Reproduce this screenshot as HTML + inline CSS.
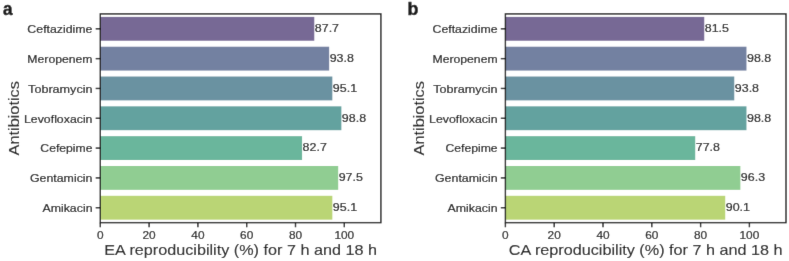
<!DOCTYPE html>
<html><head><meta charset="utf-8"><style>
html,body{margin:0;padding:0;background:#fff;}
svg{display:block;}
text{font-family:"Liberation Sans",sans-serif;fill:#141414;stroke:#141414;stroke-width:0.2px;}
</style></head><body>
<svg width="789" height="261" viewBox="0 0 789 261">
<defs><filter id="soft" x="-1%" y="-1%" width="102%" height="102%"><feConvolveMatrix order="3" kernelMatrix="0.0052 0.0619 0.0052 0.0619 0.7314 0.0619 0.0052 0.0619 0.0052" edgeMode="duplicate"/></filter></defs>
<g filter="url(#soft)">
<rect width="789" height="261" fill="#fff"/>
<rect x="100.30" y="16.88" width="213.99" height="23.86" fill="#776995"/>
<text x="314.79" y="32.18" font-size="11.55" text-anchor="start" textLength="24.27" lengthAdjust="spacingAndGlyphs">87.7</text>
<line x1="95.70" y1="28.81" x2="100.30" y2="28.81" stroke="#141414" stroke-width="1.4"/>
<text x="92.50" y="33.08" font-size="11.55" text-anchor="end" textLength="65.13" lengthAdjust="spacingAndGlyphs">Ceftazidime</text>
<rect x="100.30" y="46.70" width="228.87" height="23.86" fill="#7381a1"/>
<text x="329.67" y="62.00" font-size="11.55" text-anchor="start" textLength="24.27" lengthAdjust="spacingAndGlyphs">93.8</text>
<line x1="95.70" y1="58.63" x2="100.30" y2="58.63" stroke="#141414" stroke-width="1.4"/>
<text x="92.50" y="62.90" font-size="11.55" text-anchor="end" textLength="65.12" lengthAdjust="spacingAndGlyphs">Meropenem</text>
<rect x="100.30" y="76.52" width="232.04" height="23.86" fill="#6a92a1"/>
<text x="332.84" y="91.82" font-size="11.55" text-anchor="start" textLength="24.27" lengthAdjust="spacingAndGlyphs">95.1</text>
<line x1="95.70" y1="88.45" x2="100.30" y2="88.45" stroke="#141414" stroke-width="1.4"/>
<text x="92.50" y="92.72" font-size="11.55" text-anchor="end" textLength="64.40" lengthAdjust="spacingAndGlyphs">Tobramycin</text>
<rect x="100.30" y="106.34" width="241.07" height="23.86" fill="#63a29f"/>
<text x="341.87" y="121.64" font-size="11.55" text-anchor="start" textLength="24.27" lengthAdjust="spacingAndGlyphs">98.8</text>
<line x1="95.70" y1="118.27" x2="100.30" y2="118.27" stroke="#141414" stroke-width="1.4"/>
<text x="92.50" y="122.54" font-size="11.55" text-anchor="end" textLength="68.49" lengthAdjust="spacingAndGlyphs">Levofloxacin</text>
<rect x="100.30" y="136.16" width="201.79" height="23.86" fill="#6bb69c"/>
<text x="302.59" y="151.46" font-size="11.55" text-anchor="start" textLength="24.27" lengthAdjust="spacingAndGlyphs">82.7</text>
<line x1="95.70" y1="148.09" x2="100.30" y2="148.09" stroke="#141414" stroke-width="1.4"/>
<text x="92.50" y="152.36" font-size="11.55" text-anchor="end" textLength="52.13" lengthAdjust="spacingAndGlyphs">Cefepime</text>
<rect x="100.30" y="165.98" width="237.90" height="23.86" fill="#90cd92"/>
<text x="338.70" y="181.28" font-size="11.55" text-anchor="start" textLength="24.27" lengthAdjust="spacingAndGlyphs">97.5</text>
<line x1="95.70" y1="177.91" x2="100.30" y2="177.91" stroke="#141414" stroke-width="1.4"/>
<text x="92.50" y="182.18" font-size="11.55" text-anchor="end" textLength="62.59" lengthAdjust="spacingAndGlyphs">Gentamicin</text>
<rect x="100.30" y="195.80" width="232.04" height="23.86" fill="#bad574"/>
<text x="332.84" y="211.10" font-size="11.55" text-anchor="start" textLength="24.27" lengthAdjust="spacingAndGlyphs">95.1</text>
<line x1="95.70" y1="207.73" x2="100.30" y2="207.73" stroke="#141414" stroke-width="1.4"/>
<text x="92.50" y="212.00" font-size="11.55" text-anchor="end" textLength="50.02" lengthAdjust="spacingAndGlyphs">Amikacin</text>
<line x1="100.30" y1="222.64" x2="100.30" y2="227.24" stroke="#141414" stroke-width="1.4"/>
<text x="100.30" y="238.60" font-size="11.55" text-anchor="middle" textLength="6.59" lengthAdjust="spacingAndGlyphs">0</text>
<line x1="149.10" y1="222.64" x2="149.10" y2="227.24" stroke="#141414" stroke-width="1.4"/>
<text x="149.10" y="238.60" font-size="11.55" text-anchor="middle" textLength="13.18" lengthAdjust="spacingAndGlyphs">20</text>
<line x1="197.90" y1="222.64" x2="197.90" y2="227.24" stroke="#141414" stroke-width="1.4"/>
<text x="197.90" y="238.60" font-size="11.55" text-anchor="middle" textLength="13.18" lengthAdjust="spacingAndGlyphs">40</text>
<line x1="246.70" y1="222.64" x2="246.70" y2="227.24" stroke="#141414" stroke-width="1.4"/>
<text x="246.70" y="238.60" font-size="11.55" text-anchor="middle" textLength="13.18" lengthAdjust="spacingAndGlyphs">60</text>
<line x1="295.50" y1="222.64" x2="295.50" y2="227.24" stroke="#141414" stroke-width="1.4"/>
<text x="295.50" y="238.60" font-size="11.55" text-anchor="middle" textLength="13.18" lengthAdjust="spacingAndGlyphs">80</text>
<line x1="344.30" y1="222.64" x2="344.30" y2="227.24" stroke="#141414" stroke-width="1.4"/>
<text x="344.30" y="238.60" font-size="11.55" text-anchor="middle" textLength="19.76" lengthAdjust="spacingAndGlyphs">100</text>
<rect x="100.30" y="13.90" width="280.60" height="208.74" fill="none" stroke="#141414" stroke-width="1.4"/>
<text x="240.60" y="254.70" font-size="15.01" text-anchor="middle" textLength="272.83" lengthAdjust="spacingAndGlyphs" style="stroke-width:0.1px">EA reproducibility (%) for 7 h and 18 h</text>
<text x="0.00" y="0.00" font-size="15.01" text-anchor="middle" textLength="74.43" lengthAdjust="spacingAndGlyphs" style="stroke-width:0.1px" transform="translate(18.60,118.27) rotate(-90)">Antibiotics</text>
<text x="2.90" y="15.20" font-size="17.60" font-weight="bold" style="stroke-width:0.5px" textLength="9.50" lengthAdjust="spacingAndGlyphs">a</text>
<rect x="505.40" y="16.88" width="198.86" height="23.86" fill="#776995"/>
<text x="704.76" y="32.18" font-size="11.55" text-anchor="start" textLength="24.27" lengthAdjust="spacingAndGlyphs">81.5</text>
<line x1="500.80" y1="28.81" x2="505.40" y2="28.81" stroke="#141414" stroke-width="1.4"/>
<text x="497.60" y="33.08" font-size="11.55" text-anchor="end" textLength="65.13" lengthAdjust="spacingAndGlyphs">Ceftazidime</text>
<rect x="505.40" y="46.70" width="241.07" height="23.86" fill="#7381a1"/>
<text x="746.97" y="62.00" font-size="11.55" text-anchor="start" textLength="24.27" lengthAdjust="spacingAndGlyphs">98.8</text>
<line x1="500.80" y1="58.63" x2="505.40" y2="58.63" stroke="#141414" stroke-width="1.4"/>
<text x="497.60" y="62.90" font-size="11.55" text-anchor="end" textLength="65.12" lengthAdjust="spacingAndGlyphs">Meropenem</text>
<rect x="505.40" y="76.52" width="228.87" height="23.86" fill="#6a92a1"/>
<text x="734.77" y="91.82" font-size="11.55" text-anchor="start" textLength="24.27" lengthAdjust="spacingAndGlyphs">93.8</text>
<line x1="500.80" y1="88.45" x2="505.40" y2="88.45" stroke="#141414" stroke-width="1.4"/>
<text x="497.60" y="92.72" font-size="11.55" text-anchor="end" textLength="64.40" lengthAdjust="spacingAndGlyphs">Tobramycin</text>
<rect x="505.40" y="106.34" width="241.07" height="23.86" fill="#63a29f"/>
<text x="746.97" y="121.64" font-size="11.55" text-anchor="start" textLength="24.27" lengthAdjust="spacingAndGlyphs">98.8</text>
<line x1="500.80" y1="118.27" x2="505.40" y2="118.27" stroke="#141414" stroke-width="1.4"/>
<text x="497.60" y="122.54" font-size="11.55" text-anchor="end" textLength="68.49" lengthAdjust="spacingAndGlyphs">Levofloxacin</text>
<rect x="505.40" y="136.16" width="189.83" height="23.86" fill="#6bb69c"/>
<text x="695.73" y="151.46" font-size="11.55" text-anchor="start" textLength="24.27" lengthAdjust="spacingAndGlyphs">77.8</text>
<line x1="500.80" y1="148.09" x2="505.40" y2="148.09" stroke="#141414" stroke-width="1.4"/>
<text x="497.60" y="152.36" font-size="11.55" text-anchor="end" textLength="52.13" lengthAdjust="spacingAndGlyphs">Cefepime</text>
<rect x="505.40" y="165.98" width="234.97" height="23.86" fill="#90cd92"/>
<text x="740.87" y="181.28" font-size="11.55" text-anchor="start" textLength="24.27" lengthAdjust="spacingAndGlyphs">96.3</text>
<line x1="500.80" y1="177.91" x2="505.40" y2="177.91" stroke="#141414" stroke-width="1.4"/>
<text x="497.60" y="182.18" font-size="11.55" text-anchor="end" textLength="62.59" lengthAdjust="spacingAndGlyphs">Gentamicin</text>
<rect x="505.40" y="195.80" width="219.84" height="23.86" fill="#bad574"/>
<text x="725.74" y="211.10" font-size="11.55" text-anchor="start" textLength="24.27" lengthAdjust="spacingAndGlyphs">90.1</text>
<line x1="500.80" y1="207.73" x2="505.40" y2="207.73" stroke="#141414" stroke-width="1.4"/>
<text x="497.60" y="212.00" font-size="11.55" text-anchor="end" textLength="50.02" lengthAdjust="spacingAndGlyphs">Amikacin</text>
<line x1="505.40" y1="222.64" x2="505.40" y2="227.24" stroke="#141414" stroke-width="1.4"/>
<text x="505.40" y="238.60" font-size="11.55" text-anchor="middle" textLength="6.59" lengthAdjust="spacingAndGlyphs">0</text>
<line x1="554.20" y1="222.64" x2="554.20" y2="227.24" stroke="#141414" stroke-width="1.4"/>
<text x="554.20" y="238.60" font-size="11.55" text-anchor="middle" textLength="13.18" lengthAdjust="spacingAndGlyphs">20</text>
<line x1="603.00" y1="222.64" x2="603.00" y2="227.24" stroke="#141414" stroke-width="1.4"/>
<text x="603.00" y="238.60" font-size="11.55" text-anchor="middle" textLength="13.18" lengthAdjust="spacingAndGlyphs">40</text>
<line x1="651.80" y1="222.64" x2="651.80" y2="227.24" stroke="#141414" stroke-width="1.4"/>
<text x="651.80" y="238.60" font-size="11.55" text-anchor="middle" textLength="13.18" lengthAdjust="spacingAndGlyphs">60</text>
<line x1="700.60" y1="222.64" x2="700.60" y2="227.24" stroke="#141414" stroke-width="1.4"/>
<text x="700.60" y="238.60" font-size="11.55" text-anchor="middle" textLength="13.18" lengthAdjust="spacingAndGlyphs">80</text>
<line x1="749.40" y1="222.64" x2="749.40" y2="227.24" stroke="#141414" stroke-width="1.4"/>
<text x="749.40" y="238.60" font-size="11.55" text-anchor="middle" textLength="19.76" lengthAdjust="spacingAndGlyphs">100</text>
<rect x="505.40" y="13.90" width="280.60" height="208.74" fill="none" stroke="#141414" stroke-width="1.4"/>
<text x="645.70" y="254.70" font-size="15.01" text-anchor="middle" textLength="273.78" lengthAdjust="spacingAndGlyphs" style="stroke-width:0.1px">CA reproducibility (%) for 7 h and 18 h</text>
<text x="0.00" y="0.00" font-size="15.01" text-anchor="middle" textLength="74.43" lengthAdjust="spacingAndGlyphs" style="stroke-width:0.1px" transform="translate(423.70,118.27) rotate(-90)">Antibiotics</text>
<text x="407.60" y="14.80" font-size="18.18" font-weight="bold" style="stroke-width:0.5px" textLength="10.90" lengthAdjust="spacingAndGlyphs">b</text>
</g>
</svg>
</body></html>
